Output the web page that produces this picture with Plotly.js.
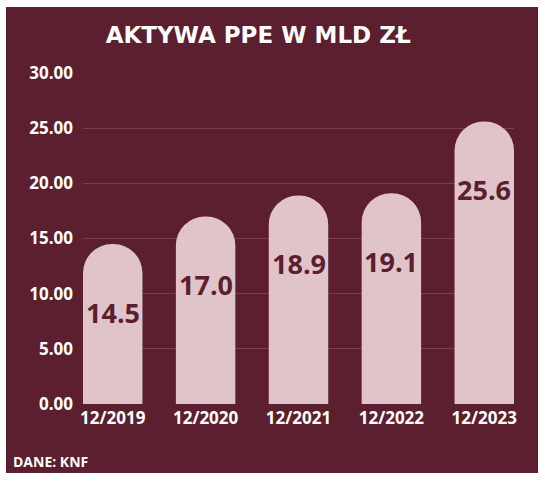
<!DOCTYPE html>
<html>
<head>
<meta charset="utf-8">
<script src="https://cdn.plot.ly/plotly-3.0.1.min.js"></script>
<style>
  html, body { margin: 0; padding: 0; background: #ffffff; }
  #plot { position: absolute; left: 6px; top: 7px; width: 532px; height: 466px; }
</style>
</head>
<body>
<div id="plot"></div>
<script>
// data
var periods = ["12/2019", "12/2020", "12/2021", "12/2022", "12/2023"];
var assets = [14.5, 17.0, 18.9, 19.1, 25.6];
var yTicks = [0, 5, 10, 15, 20, 25, 30];
var yTickText = ["0.00", "5.00", "10.00", "15.00", "20.00", "25.00", "30.00"];

var maroon = '#5b1f2f';
var pink = '#e0c4ca';

var trace = {
  x: periods,
  y: assets,
  type: "bar",
  width: 0.64,
  marker: {color: pink, cornerradius: "50%"},
  hoverinfo: "skip"
};

// value labels inside the bars
var labels = periods.map(function (p, i) {
  return {
    x: p, y: assets[i], xref: "x", yref: "y",
    text: assets[i].toFixed(1),
    showarrow: false, yanchor: "middle", yshift: -68,
    font: {family: "Open Sans", size: 27, color: maroon, weight: 700}
  };
});

labels.push({
  x: -0.166, y: -0.175, xref: "paper", yref: "paper",
  xanchor: "left", yanchor: "middle", showarrow: false,
  text: "DANE: KNF",
  font: {family: "Open Sans", size: 14, color: "#ffffff", weight: 700}
});

var layout = {
  width: 532,
  height: 466,
  margin: {l: 77, r: 24, t: 66, b: 69},
  paper_bgcolor: maroon,
  plot_bgcolor: maroon,
  showlegend: false,
  title: {
    text: "AKTYWA PPE W MLD ZŁ",
    x: 0.474, xref: "container", xanchor: "center",
    y: 1 - 28 / 466, yref: "container", yanchor: "middle",
    font: {family: "DejaVu Sans", size: 23, color: "#ffffff", weight: 700}
  },
  xaxis: {
    range: [-0.32, 4.32],
    showgrid: false, zeroline: false, showline: false,
    ticks: "", ticklabelstandoff: 2,
    tickfont: {family: "Open Sans", size: 17, color: "#ffffff", weight: 700}
  },
  yaxis: {
    range: [0, 30],
    tickvals: yTicks, ticktext: yTickText,
    showgrid: true, gridcolor: "#7a3d4d", gridwidth: 1,
    zeroline: false, showline: false,
    ticks: "", ticklabelstandoff: 9,
    tickfont: {family: "Open Sans", size: 17, color: "#ffffff", weight: 700}
  },
  annotations: labels
};

Plotly.newPlot("plot", [trace], layout, {displayModeBar: false, staticPlot: true});
</script>
</body>
</html>
